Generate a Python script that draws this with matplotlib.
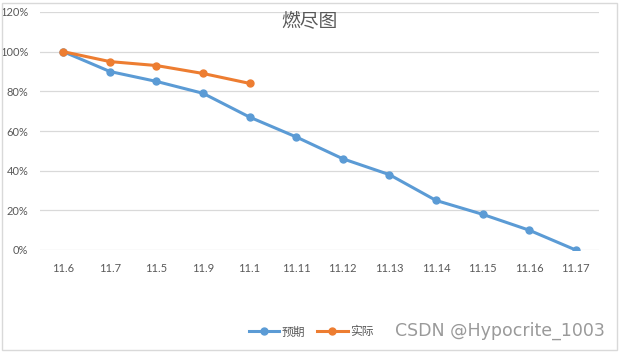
import matplotlib.pyplot as plt
from matplotlib.patches import Rectangle
from matplotlib.ticker import FuncFormatter

plt.rcParams['font.family'] = ['Lato', 'Noto Sans CJK SC', 'DejaVu Sans']

# --- data ---
dates = ['11.6', '11.7', '11.5', '11.9', '11.1', '11.11',
         '11.12', '11.13', '11.14', '11.15', '11.16', '11.17']
expected = [100, 90, 85, 79, 67, 57, 46, 38, 25, 18, 10, 0]
actual = [100, 95, 93, 89, 84]
y_ticks = [0, 20, 40, 60, 80, 100, 120]

blue = '#5B9BD5'
orange = '#ED7D31'
grey_txt = '#595959'

fig = plt.figure(figsize=(6.2, 3.52), dpi=100)
ax = fig.add_axes([40 / 620, 102 / 352, 559 / 620, 238 / 352])

x = range(len(dates))
ax.plot(x, expected, color=blue, lw=2.2, marker='o', ms=5, label='预期', zorder=3)
ax.plot(range(len(actual)), actual, color=orange, lw=2.2, marker='o', ms=5, label='实际', zorder=4)

ax.set_xlim(-0.5, len(dates) - 0.5)
ax.set_ylim(0, 120)
ax.set_yticks(y_ticks)
ax.yaxis.set_major_formatter(FuncFormatter(lambda v, p: f'{v:.0f}%'))
ax.set_xticks(list(x))
ax.set_xticklabels(dates)
ax.tick_params(length=0, labelsize=8, colors=grey_txt)
ax.tick_params(axis='x', pad=9)
ax.tick_params(axis='y', pad=8.5)
ax.grid(axis='y', color='#d9d9d9', lw=0.9)
ax.set_axisbelow(True)
for s in ax.spines.values():
    s.set_visible(False)

fig.text(309 / 620, 1 - 22 / 352, '燃尽图', ha='center', va='center',
         fontsize=13.5, color=grey_txt, family=['Noto Sans CJK SC'])

fig.legend(loc='center', bbox_to_anchor=(311 / 620, 1 - 332 / 352), ncol=2,
           frameon=False, prop={'family': ['Noto Sans CJK SC'], 'size': 8.5},
           labelcolor=grey_txt, handlelength=2.6,
           handletextpad=0.2, columnspacing=1.0)

fig.text(500 / 620, 1 - 331 / 352, 'CSDN @Hypocrite_1003', ha='center', va='center',
         fontsize=12.5, color='#9a9a9a', family=['DejaVu Sans'])

fig.patches.append(Rectangle((1.5 / 620, 2 / 352), 615 / 620, 347 / 352,
                             transform=fig.transFigure, fill=False,
                             edgecolor='#d9d9d9', lw=1))

fig.savefig('out.png', dpi=100)
